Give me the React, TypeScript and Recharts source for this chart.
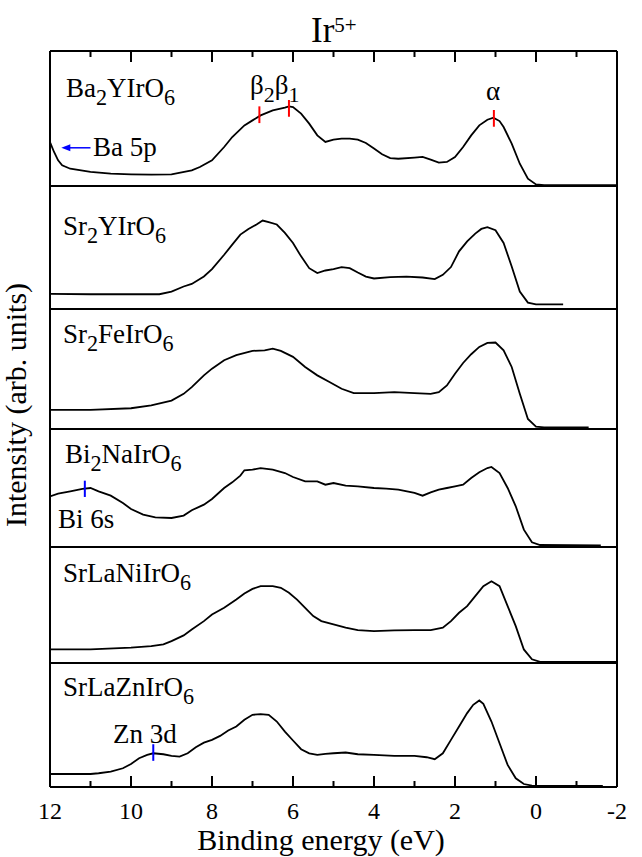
import React from "react";
import { LineChart, Line, XAxis, YAxis, ReferenceLine } from "recharts";

const FONT = '"Liberation Serif", "Times New Roman", serif';

// [binding energy (eV), intensity (arb. units)]
const ba2YIrO6: [number, number][] = [
  [12, 32.6], [11.9, 25.2], [11.8, 19.0], [11.7, 15.3], [11.5, 12.8], [11, 10.4], [10.5, 9.1],
  [10, 8.6], [9.5, 8.4], [9, 8.6], [8.5, 11.6], [8.3, 14.1], [8, 19.0], [7.7, 28.9], [7.5, 36.3],
  [7.2, 44.9], [7.0, 48.6], [6.8, 52.3], [6.5, 56.0], [6.2, 58.0], [6.1, 59.0], [6.0, 58.5],
  [5.8, 53.6], [5.6, 46.2], [5.4, 37.5], [5.2, 32.6], [5.0, 34.3], [4.8, 35.1], [4.6, 35.1],
  [4.4, 34.3], [4.2, 31.9], [4.0, 27.7], [3.8, 23.5], [3.6, 20.7], [3.4, 20.2], [3.0, 21.0],
  [2.8, 21.5], [2.6, 19.5], [2.4, 17.3], [2.2, 17.8], [2.0, 21.5], [1.8, 28.9], [1.6, 37.5],
  [1.4, 44.9], [1.2, 49.1], [1.05, 50.6], [0.9, 48.1], [0.8, 43.7], [0.6, 31.4], [0.4, 16.5],
  [0.2, 5.4], [0, 1.2], [-0.2, 0.6], [-1, 0.6], [-2, 0.6],
];
const sr2YIrO6: [number, number][] = [
  [12, 12.3], [11, 12.0], [10, 12.0], [9.3, 12.0], [9, 14.2], [8.7, 18.3], [8.5, 20.4], [8.2, 26.4],
  [8, 32.4], [7.7, 44.1], [7.5, 52.3], [7.3, 60.5], [7.1, 65.1], [6.9, 68.7], [6.75, 71.9],
  [6.6, 70.6], [6.4, 68.7], [6.2, 61.9], [6, 53.7], [5.8, 42.8], [5.6, 33.2], [5.4, 29.2],
  [5.2, 31.3], [5, 32.4], [4.8, 34.1], [4.6, 33.2], [4.4, 29.7], [4.2, 26.4], [4, 24.8],
  [3.6, 25.9], [3.2, 26.4], [2.8, 25.6], [2.5, 24.3], [2.3, 27.8], [2.1, 34.1], [1.9, 46.9],
  [1.7, 55.0], [1.5, 61.3], [1.35, 65.1], [1.2, 66.5], [1.0, 64.0], [0.8, 53.7], [0.6, 34.6],
  [0.4, 14.2], [0.2, 5.2], [0, 3.8], [-0.67, 3.8],
];
const sr2FeIrO6: [number, number][] = [
  [12, 15.9], [11, 15.9], [10, 17.3], [9.5, 19.6], [9, 23.7], [8.7, 29.3], [8.5, 34.9], [8.2, 44.7],
  [8, 50.3], [7.7, 57.3], [7.4, 61.5], [7, 65.1], [6.7, 65.6], [6.5, 67.0], [6.3, 65.1], [6, 60.1],
  [5.7, 51.7], [5.4, 44.7], [5.1, 39.1], [4.8, 33.5], [4.5, 29.9], [4, 29.9], [3.5, 30.7],
  [3, 29.9], [2.6, 29.3], [2.4, 30.7], [2.2, 36.3], [2, 46.1], [1.8, 55.0], [1.6, 62.3],
  [1.4, 68.4], [1.2, 71.8], [1.0, 72.1], [0.8, 65.6], [0.6, 51.7], [0.4, 29.3], [0.2, 8.4],
  [0, 2.0], [-0.2, 1.4], [-1.3, 1.4],
];
const bi2NaIrO6: [number, number][] = [
  [12, 42.9], [11.8, 45.2], [11.5, 47.2], [11.2, 49.2], [11, 50.0], [10.8, 47.2], [10.5, 43.5],
  [10.2, 37.3], [10, 32.2], [9.7, 27.4], [9.4, 25.1], [9, 24.6], [8.7, 26.6], [8.5, 31.1],
  [8.2, 35.9], [8, 40.7], [7.7, 50.0], [7.5, 54.8], [7.3, 60.5], [7.2, 65.0], [7, 65.5],
  [6.8, 66.9], [6.5, 65.5], [6.2, 62.7], [6, 59.3], [5.7, 55.6], [5.4, 55.6], [5.2, 52.8],
  [5, 54.2], [4.7, 52.0], [4.4, 51.4], [4, 50.0], [3.7, 49.4], [3.4, 48.6], [3, 45.8],
  [2.8, 43.5], [2.6, 46.3], [2.4, 48.6], [2.2, 50.0], [2, 51.4], [1.8, 52.8], [1.6, 58.5],
  [1.4, 63.3], [1.2, 66.9], [1.1, 67.8], [0.9, 62.7], [0.7, 50.0], [0.5, 34.5], [0.3, 14.7],
  [0.1, 4.0], [-0.1, 1.7], [-1.6, 1.4],
];
const srLaNiIrO6: [number, number][] = [
  [12, 11.7], [11, 11.7], [10, 13.2], [9.5, 14.6], [9.2, 16.0], [9, 18.9], [8.7, 23.8], [8.5, 28.9],
  [8.2, 36.1], [8, 41.8], [7.7, 47.6], [7.4, 54.7], [7.2, 59.9], [7, 63.9], [6.8, 66.2],
  [6.5, 66.2], [6.3, 64.8], [6.1, 60.5], [5.9, 54.7], [5.7, 47.6], [5.5, 40.4], [5.3, 36.1],
  [5, 33.2], [4.7, 30.4], [4.4, 28.4], [4, 27.5], [3.5, 28.1], [3, 28.4], [2.6, 28.4],
  [2.3, 30.4], [2.1, 36.1], [1.9, 43.3], [1.7, 49.0], [1.5, 57.6], [1.3, 66.2], [1.1, 70.5],
  [0.9, 66.2], [0.7, 49.0], [0.5, 31.8], [0.3, 11.7], [0.1, 3.2], [-0.1, 0.9], [-2, 0.9],
];
const srLaZnIrO6: [number, number][] = [
  [12, 10.5], [11, 10.5], [10.8, 11.1], [10.5, 12.4], [10.2, 15.1], [10, 18.6], [9.8, 23.2],
  [9.6, 25.9], [9.45, 27.2], [9.2, 26.4], [9, 25.1], [8.8, 24.5], [8.6, 27.2], [8.4, 32.1],
  [8.2, 35.8], [8, 38.0], [7.8, 41.2], [7.6, 45.6], [7.4, 48.8], [7.2, 54.2], [7, 58.2],
  [6.8, 58.8], [6.6, 58.2], [6.4, 52.8], [6.2, 44.7], [6, 37.5], [5.8, 30.5], [5.6, 27.2],
  [5.4, 25.9], [5.2, 26.7], [5, 27.2], [4.7, 27.8], [4.4, 26.4], [4, 25.9], [3.5, 25.1],
  [3, 25.1], [2.7, 24.0], [2.5, 22.4], [2.3, 27.2], [2.1, 38.0], [1.9, 48.8], [1.7, 59.6],
  [1.55, 66.3], [1.4, 69.8], [1.3, 67.1], [1.1, 52.8], [0.9, 35.3], [0.7, 17.8], [0.5, 7.0],
  [0.3, 2.4], [0.1, 1.1], [-1.65, 0.8],
];

const compounds = ["Ba2YIrO6", "Sr2YIrO6", "Sr2FeIrO6", "Bi2NaIrO6", "SrLaNiIrO6", "SrLaZnIrO6"];
const spectra = [ba2YIrO6, sr2YIrO6, sr2FeIrO6, bi2NaIrO6, srLaNiIrO6, srLaZnIrO6];

// peak marks [energy, intensity] on Ba2YIrO6: beta2, beta1, alpha
const irPeakMarks: [number, number][] = [[6.83, 52.8], [6.1, 57.5], [1.04, 50.1]];
const bi6sMark: [number, number] = [11.14, 49.3];
const zn3dMark: [number, number] = [9.45, 27.8];
const ba5pArrow: [number, number, number] = [11.72, 11.0, 28.3];

const majorTicks = [12, 10, 8, 6, 4, 2, 0, -2];
const minorTicks = [11, 9, 7, 5, 3, 1, -1];

// layout (px)
const PLOT_LEFT = 50;
const PLOT_W = 567;
const PAD = 4;
const HPAD = 24;
const panelTops = [51, 186, 309, 429, 547, 663];
const panelHeights = [135, 123, 120, 118, 116, 124];
const labelBaselines = [97, 235, 343, 463, 582, 696];
const labelLefts = [66, 63, 63, 65, 63, 63];
const PLOT_TOP = panelTops[0];
const PLOT_BOTTOM = panelTops[5] + panelHeights[5];

// same linear map as the x axis (domain 12 .. -2, reversed)
const tickX = (t: number) => PLOT_LEFT + ((12 - t) / 14) * PLOT_W;

const TickLabel = (props: any) => {
  const { x, y, payload } = props;
  return (
    <text x={x} y={y + 32} textAnchor="middle" fontSize={24} fontFamily={FONT} fill="#000">
      {payload.value}
    </text>
  );
};

const ArrowShape = (props: any) => {
  const { x1, y1, x2, y2 } = props;
  return (
    <g>
      <line x1={x1 + 6} y1={y1} x2={x2} y2={y2} stroke="#0000ff" strokeWidth={1.5} />
      <polygon points={`${x1},${y1} ${x1 + 9},${y1 - 3.5} ${x1 + 9},${y1 + 3.5}`} fill="#0000ff" />
    </g>
  );
};

const markSeg = (m: [number, number], half: number) => [
  { x: m[0], y: m[1] - half },
  { x: m[0], y: m[1] + half },
];

function Formula({ x, y, text, size = 27 }: { x: number; y: number; text: string; size?: number }) {
  const parts = text.split(/(\d+)/).filter((p) => p !== "");
  let shift = 0;
  return (
    <text x={x} y={y} fontSize={size} fontFamily={FONT} fill="#000">
      {parts.map((p, k) => {
        const isSub = /^\d+$/.test(p);
        const dy = isSub ? 8 - shift : -shift;
        shift = isSub ? 8 : 0;
        return (
          <tspan key={k} dy={dy} fontSize={isSub ? size * 0.82 : size}>
            {p}
          </tspan>
        );
      })}
    </text>
  );
}

function Panel({ idx }: { idx: number }) {
  const first = idx === 0;
  const last = idx === spectra.length - 1;
  const h = panelHeights[idx];
  const bottom = last ? 70 : PAD;
  const rows = spectra[idx].map(([e, i]) => ({ e, i }));
  const frame = { stroke: "#000", strokeWidth: 2 };
  const xCommon = {
    dataKey: "e",
    type: "number" as const,
    domain: [-2, 12],
    reversed: true,
    allowDataOverflow: true,
    height: 1,
    interval: 0 as const,
  };
  return (
    <div style={{ position: "absolute", left: PLOT_LEFT - HPAD, top: panelTops[idx] - PAD }}>
      <LineChart
        width={PLOT_W + 2 * HPAD}
        height={h + PAD + bottom}
        data={rows}
        margin={{ top: first ? PAD - 1 : PAD, right: HPAD - 1, bottom: bottom - 1, left: HPAD - 1 }}
      >
        <XAxis
          {...xCommon}
          xAxisId="b"
          axisLine={frame}
          ticks={last ? majorTicks : []}
          tickLine={false}
          tickSize={0}
          tickMargin={0}
          tick={last ? <TickLabel /> : false}
        />
        {first && (
          <XAxis {...xCommon} xAxisId="t" orientation="top" axisLine={frame} tickLine={false} tick={false} />
        )}
        <YAxis yAxisId="l" domain={[0, 100]} width={1} tick={false} tickLine={false} axisLine={frame} />
        <YAxis
          yAxisId="r"
          orientation="right"
          domain={[0, 100]}
          width={1}
          tick={false}
          tickLine={false}
          axisLine={frame}
        />
        <Line
          xAxisId="b"
          yAxisId="l"
          type="linear"
          dataKey="i"
          stroke="#000"
          strokeWidth={1.8}
          dot={false}
          isAnimationActive={false}
        />
        {first &&
          irPeakMarks.map((m, k) => (
            <ReferenceLine key={k} xAxisId="b" yAxisId="l" segment={markSeg(m, 6.2)} stroke="#ff0000" strokeWidth={2} />
          ))}
        {first && (
          <ReferenceLine
            xAxisId="b"
            yAxisId="l"
            segment={[
              { x: ba5pArrow[0], y: ba5pArrow[2] },
              { x: ba5pArrow[1], y: ba5pArrow[2] },
            ]}
            shape={<ArrowShape />}
          />
        )}
        {idx === 3 && (
          <ReferenceLine xAxisId="b" yAxisId="l" segment={markSeg(bi6sMark, 6.9)} stroke="#0000ff" strokeWidth={2} />
        )}
        {last && (
          <ReferenceLine xAxisId="b" yAxisId="l" segment={markSeg(zn3dMark, 6.7)} stroke="#0000ff" strokeWidth={2} />
        )}
      </LineChart>
    </div>
  );
}

export default function App() {
  const frameTicks: [number, number][] = [
    ...majorTicks.slice(1, -1).map((t) => [t, 11] as [number, number]),
    ...minorTicks.map((t) => [t, 6] as [number, number]),
  ];
  return (
    <div style={{ position: "absolute", left: 0, top: 0, width: 642, height: 857, background: "#fff" }}>
      {spectra.map((_, k) => (
        <Panel key={k} idx={k} />
      ))}
      <svg
        width={642}
        height={857}
        style={{ position: "absolute", left: 0, top: 0, pointerEvents: "none" }}
      >
        {frameTicks.map(([t, len]) => (
          <g key={t}>
            <line x1={tickX(t)} x2={tickX(t)} y1={PLOT_TOP} y2={PLOT_TOP + len} stroke="#000" strokeWidth={2} />
            <line x1={tickX(t)} x2={tickX(t)} y1={PLOT_BOTTOM} y2={PLOT_BOTTOM - len} stroke="#000" strokeWidth={2} />
          </g>
        ))}
        <text x={311} y={42} fontSize={35} fontFamily={FONT} fill="#000">
          Ir
          <tspan dy={-10} fontSize={21}>
            5+
          </tspan>
        </text>
        <text
          x={26}
          y={405}
          transform="rotate(-90 26 405)"
          textAnchor="middle"
          fontSize={30}
          fontFamily={FONT}
          fill="#000"
        >
          Intensity (arb. units)
        </text>
        <text x={321} y={850} textAnchor="middle" fontSize={30} fontFamily={FONT} fill="#000">
          Binding energy (eV)
        </text>
        {compounds.map((c, k) => (
          <Formula key={c} x={labelLefts[k]} y={labelBaselines[k]} text={c} />
        ))}
        <text x={250} y={94} fontSize={27} fontFamily={FONT} fill="#000">
          β<tspan dy={8} fontSize={22}>2</tspan>
          <tspan dy={-8}>β</tspan>
          <tspan dy={8} fontSize={22}>1</tspan>
        </text>
        <text x={486} y={100} fontSize={27} fontFamily={FONT} fill="#000">
          α
        </text>
        <text x={93} y={156} fontSize={27} fontFamily={FONT} fill="#000">
          Ba 5p
        </text>
        <text x={58} y={528} fontSize={27} fontFamily={FONT} fill="#000">
          Bi 6s
        </text>
        <text x={113} y={743} fontSize={27} fontFamily={FONT} fill="#000">
          Zn 3d
        </text>
      </svg>
    </div>
  );
}
